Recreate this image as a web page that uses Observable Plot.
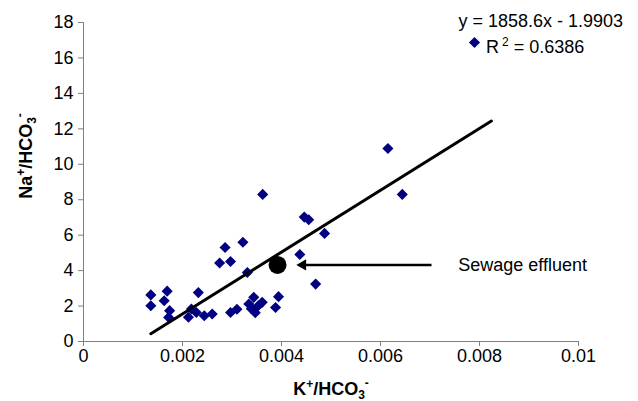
<!DOCTYPE html>
<html><head><meta charset="utf-8">
<script src="https://cdn.jsdelivr.net/npm/d3@7"></script>
<script src="https://cdn.jsdelivr.net/npm/@observablehq/plot@0.6"></script>
<style>html,body{margin:0;padding:0;background:#fff} svg{display:block}</style>
</head><body><div id="chart"></div>
<script>
// ---- data ----
const kHCO3 = [0.00136,0.00136,0.00169,0.00163,0.00174,0.00172,0.00232,0.00218,0.00212,0.00228,0.00244,0.00260,
  0.00275,0.00297,0.00286,0.00322,0.00297,0.00310,0.00331,0.00344,0.00334,0.00347,0.00361,0.00394,0.00388,
  0.00437,0.00469,0.00362,0.00446,0.00455,0.00487,0.00615,0.00644,0.00353,0.00339];
const naHCO3 = [2.63,2.02,2.84,2.30,1.74,1.36,2.76,1.83,1.37,1.64,1.45,1.55,
  4.43,4.51,5.30,5.60,1.64,1.82,3.89,2.49,2.12,1.62,2.21,2.53,1.92,
  4.91,3.24,8.30,7.02,6.87,6.10,10.89,8.30,2.02,1.85];
const sewageK = [0.00392];
const sewageNa = [4.32];
const sewageLabel = "Sewage effluent";
const arrowFromK = [0.00697];
const arrowToK = [0.00431];
const labelK = [0.00757];
const trendK = [0.00136, 0.00824];
const trendNa = [0.44, 12.44];
const trendEquation = "y = 1858.6x - 1.9903";
const r2Value = "0.6386";
const xTicks = [0, 0.002, 0.004, 0.006, 0.008, 0.01];
const xTickLabels = ["0", "0.002", "0.004", "0.006", "0.008", "0.01"];
const yTicks = [0, 2, 4, 6, 8, 10, 12, 14, 16, 18];
const yTickLabels = ["0", "2", "4", "6", "8", "10", "12", "14", "16", "18"];

// ---- build ----
const W = 638, H = 401;
const FONT = "'Liberation Sans', Arial, Helvetica, sans-serif";
const NAVY = "#000080";
const points = kHCO3.map((k, i) => ({k, na: naHCO3[i]}));
const sewage = sewageK.map((k, i) => ({k, na: sewageNa[i]}));
const trend = trendK.map((k, i) => ({k, na: trendNa[i]}));
const arrow = arrowFromK.map((k, i) => ({k1: k, k2: arrowToK[i], na: sewageNa[i]}));

const plot = Plot.plot({
  width: W, height: H,
  marginLeft: 83, marginRight: 60, marginTop: 22, marginBottom: 60,
  style: {fontFamily: FONT, fontSize: "18px", color: "#000", background: "#fff", overflow: "visible"},
  x: {domain: [0, 0.01]},
  y: {domain: [0, 18]},
  marks: [
    Plot.axisX({ticks: xTicks, tickFormat: d => xTickLabels[xTicks.indexOf(d)], tickSize: 5, tickPadding: 3,
      stroke: "#808080", fill: "#000", label: null, fontSize: 18}),
    Plot.axisY({ticks: yTicks, tickFormat: d => yTickLabels[yTicks.indexOf(d)], tickSize: 5, tickPadding: 5,
      stroke: "#808080", fill: "#000", label: null, fontSize: 18}),
    Plot.ruleY([0], {stroke: "#808080"}),
    Plot.ruleX([0], {y1: 0, y2: 18, stroke: "#808080"}),
    Plot.dot(points, {x: "k", y: "na", symbol: "diamond2", r: 5, fill: NAVY, stroke: null}),
    Plot.line(trend, {x: "k", y: "na", stroke: "#000", strokeWidth: 3}),
    Plot.dot(sewage, {x: "k", y: "na", r: 9, fill: "#000", stroke: null}),
    Plot.link(arrow, {x1: "k1", x2: d => d.k2, y1: "na", y2: "na", stroke: "#000", strokeWidth: 2.5, dx: 3}),
    Plot.dot(arrow, {x: "k2", y: "na", symbol: "triangle", r: 4.2, rotate: -90, fill: "#000", stroke: null, dx: 6}),
    Plot.text(sewage, {x: () => labelK[0], y: "na", text: () => sewageLabel, textAnchor: "start", fontSize: 18, fill: "#000"}),
    Plot.dot([0], {frameAnchor: "top-right", dx: -104, dy: 20, symbol: "diamond2", r: 5, fill: NAVY, stroke: null})
  ]
});
document.getElementById("chart").appendChild(plot);

// ---- rich text (super/subscripts) ----
const svg = d3.select(plot);
const g = svg.append("g").attr("font-family", FONT).attr("fill", "#000");

// trendline label
g.append("text").attr("x", 623).attr("y", 27).attr("text-anchor", "end").attr("font-size", 18).text(trendEquation);
const r2 = g.append("text").attr("x", 486).attr("y", 53).attr("text-anchor", "start").attr("font-size", 18);
r2.append("tspan").text("R");
r2.append("tspan").attr("dx", 3).attr("dy", -7).attr("font-size", 12).text("2");
r2.append("tspan").attr("dy", 7).text(" = " + r2Value);

function chemLabel(sel, first) {
  sel.append("tspan").text(first);
  sel.append("tspan").attr("dy", -7).attr("font-size", 12).text("+");
  sel.append("tspan").attr("dy", 7).text("/HCO");
  sel.append("tspan").attr("dy", 4).attr("font-size", 12).text("3");
  sel.append("tspan").attr("dy", -12).attr("font-size", 12).text("-");
}
const xt = g.append("text").attr("x", 331).attr("y", 395).attr("text-anchor", "middle")
  .attr("font-weight", "bold").attr("font-size", 18);
chemLabel(xt, "K");
const yt = g.append("text").attr("transform", "translate(32,156) rotate(-90)").attr("text-anchor", "middle")
  .attr("font-weight", "bold").attr("font-size", 18);
chemLabel(yt, "Na");
</script>
</body></html>
